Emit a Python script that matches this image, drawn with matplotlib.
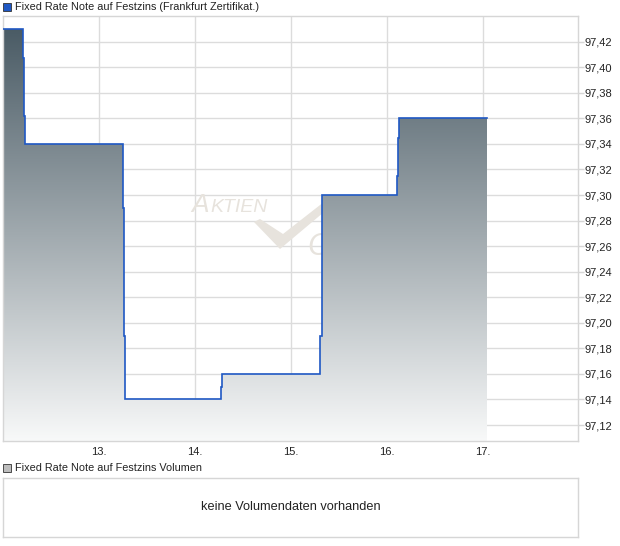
import matplotlib
matplotlib.use("Agg")
import matplotlib.pyplot as plt
import numpy as np
from matplotlib.colors import LinearSegmentedColormap
from matplotlib.patches import Rectangle, PathPatch, Polygon
from matplotlib.path import Path

plt.rcParams['font.family'] = ['Liberation Sans', 'DejaVu Sans']

# ---- data (day of month, price) ----
times = [12.0, 12.2135, 12.222, 12.232, 13.250, 13.260, 13.271, 14.274, 14.284,
         15.305, 15.326, 16.107, 16.118, 16.128, 17.039]
prices = [97.43, 97.407, 97.362, 97.340, 97.290, 97.190, 97.140, 97.150, 97.160,
          97.19, 97.300, 97.315, 97.345, 97.360, 97.360]
x_ticks = [13, 14, 15, 16, 17]
x_labels = ["13.", "14.", "15.", "16.", "17."]
y_ticks = [97.12, 97.14, 97.16, 97.18, 97.20, 97.22, 97.24, 97.26, 97.28,
           97.30, 97.32, 97.34, 97.36, 97.38, 97.40, 97.42]
title_main = "Fixed Rate Note auf Festzins (Frankfurt Zertifikat.)"
title_vol = "Fixed Rate Note auf Festzins Volumen"
no_vol_text = "keine Volumendaten vorhanden"

W, H = 620, 546
fig = plt.figure(figsize=(W / 100, H / 100), dpi=100)

def fx(px):
    return px / W

def fy(py):
    return 1 - py / H

# main axes
ax = fig.add_axes([fx(3), fy(441), fx(578) - fx(3), fy(16) - fy(441)])
xlo, xhi = 12.0, 17.99
ylo, yhi = 97.1075, 97.4401
ax.set_xlim(xlo, xhi)
ax.set_ylim(ylo, yhi)

# step polygon
xs, ys = [], []
for i, (t, p) in enumerate(zip(times, prices)):
    if i > 0:
        xs.append(t)
        ys.append(prices[i - 1])
    xs.append(t)
    ys.append(p)
poly_x = [times[0]] + xs + [times[-1]]
poly_y = [ylo] + ys + [ylo]
verts = list(zip(poly_x, poly_y))
path = Path(verts + [verts[0]], [Path.MOVETO] + [Path.LINETO] * (len(verts) - 1) + [Path.CLOSEPOLY])
patch = PathPatch(path, facecolor='none', edgecolor='none')
ax.add_patch(patch)

cmap = LinearSegmentedColormap.from_list("g", ["#f8f9f9", "#4a5b65"])
grad = np.linspace(0, 1, 256).reshape(-1, 1)
top = max(prices)
im = ax.imshow(grad, extent=[xlo, xhi, ylo, top], origin='lower', cmap=cmap,
               aspect='auto', zorder=2, interpolation='bilinear')
im.set_clip_path(patch)
ax.set_xlim(xlo, xhi)
ax.set_ylim(ylo, yhi)

ax.plot(xs, ys, color='#1f58c4', lw=1.2, zorder=3, solid_joinstyle='miter')

# grid & axes styling
ax.set_xticks(x_ticks)
ax.set_xticklabels(x_labels)
ax.set_yticks(y_ticks)
ax.set_yticklabels([f"{v:.2f}".replace('.', ',') for v in y_ticks])
ax.yaxis.tick_right()
ax.grid(True, color='#dcdcdc', lw=1.0, zorder=0)
ax.set_axisbelow(True)
for s in ax.spines.values():
    s.set_color('#d6d6d6')
    s.set_linewidth(1.0)
ax.tick_params(axis='y', length=4, width=1, color='#d6d6d6', pad=0.5,
               labelsize=8.0, labelcolor='#222222')
ax.tick_params(axis='x', length=0, pad=4, labelsize=8.0, labelcolor='#222222')

# watermark (inside axes, above grid, below fill)
wm = '#e7e3dd'
ax.text(fx(191), fy(212), "A", transform=fig.transFigure, fontsize=19, color=wm,
        style='italic', va='baseline', ha='left', zorder=1)
ax.text(fx(210), fy(212), "KTIEN", transform=fig.transFigure, fontsize=14, color=wm,
        style='italic', va='baseline', ha='left', zorder=1)
ax.text(fx(307), fy(255), "CHECK", transform=fig.transFigure, fontsize=22, color=wm,
        style='italic', va='baseline', ha='left', zorder=1)
check = Polygon([(fx(254), fy(222)), (fx(260), fy(219)), (fx(283), fy(234)),
                 (fx(329), fy(198)), (fx(330), fy(207)), (fx(280), fy(249))], closed=True,
                transform=fig.transFigure, facecolor=wm, edgecolor='none', zorder=1)
ax.add_patch(check)

# top legend
fig.add_artist(Rectangle((fx(3), fy(11)), fx(8), fy(3) - fy(11), facecolor='#1f58c4',
                         edgecolor='#333333', lw=0.6))
fig.text(fx(15), fy(7), title_main, fontsize=7.8, va='center', ha='left', color='#222222')

# volume legend
fig.add_artist(Rectangle((fx(3), fy(472)), fx(8), fy(464) - fy(472), facecolor='#bdbdbd',
                         edgecolor='#333333', lw=0.6))
fig.text(fx(15), fy(468), title_vol, fontsize=7.8, va='center', ha='left', color='#222222')

# volume box
ax2 = fig.add_axes([fx(3), fy(537), fx(578) - fx(3), fy(478) - fy(537)])
ax2.set_xticks([])
ax2.set_yticks([])
for s in ax2.spines.values():
    s.set_color('#d6d6d6')
    s.set_linewidth(1.0)
ax2.text(0.5, 0.5, no_vol_text, transform=ax2.transAxes, ha='center', va='center',
         fontsize=9.2, color='#222222')

fig.savefig("out.png", dpi=100)
